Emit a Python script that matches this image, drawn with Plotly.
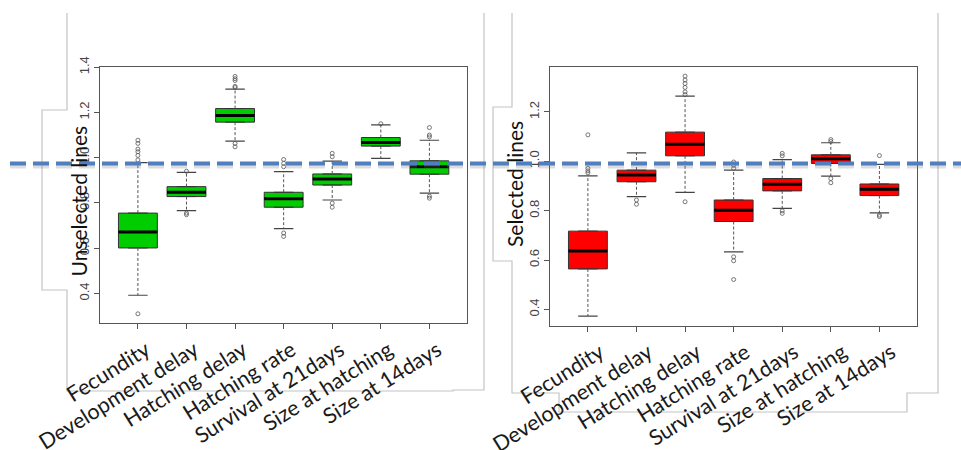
import plotly.graph_objects as go

categories = ["Fecundity", "Development delay", "Hatching delay", "Hatching rate",
              "Survival at 21days", "Size at hatching", "Size at 14days"]
positions = [1, 2, 3, 4, 5, 6, 7]

# Unselected lines (green)
q1_u = [0.601, 0.828, 1.157, 0.781, 0.879, 1.051, 0.927]
med_u = [0.671, 0.847, 1.186, 0.818, 0.906, 1.067, 0.960]
q3_u = [0.755, 0.872, 1.217, 0.847, 0.928, 1.089, 0.986]
lo_u = [0.392, 0.766, 1.073, 0.686, 0.813, 0.997, 0.843]
hi_u = [0.978, 0.935, 1.303, 0.938, 0.985, 1.145, 1.077]
out_u = [
    [0.99, 1.01, 1.026, 1.038, 1.063, 1.077, 0.31],
    [0.940, 0.755, 0.748],
    [1.31, 1.315, 1.341, 1.349, 1.359, 1.063, 1.048],
    [0.96, 0.975, 0.992, 0.667, 0.652],
    [1.004, 1.019, 0.799, 0.781],
    [1.15],
    [1.092, 1.10, 1.133, 0.83, 0.821],
]

# Selected lines (red)
q1_s = [0.564, 0.917, 1.022, 0.756, 0.880, 0.991, 0.861]
med_s = [0.637, 0.944, 1.069, 0.802, 0.907, 1.010, 0.887]
q3_s = [0.717, 0.964, 1.118, 0.843, 0.930, 1.026, 0.908]
lo_s = [0.373, 0.857, 0.874, 0.633, 0.809, 0.940, 0.791]
hi_s = [0.941, 1.034, 1.264, 0.964, 1.007, 1.075, 0.987]
out_s = [
    [0.953, 0.961, 0.971, 1.107],
    [0.843, 0.826],
    [1.27, 1.281, 1.299, 1.315, 1.329, 1.345, 0.836],
    [0.971, 0.984, 0.997, 0.613, 0.597, 0.521],
    [1.022, 1.032, 0.799, 0.789],
    [1.08, 1.088, 0.930, 0.913],
    [1.023, 0.782, 0.776],
]

y_ticks_u = [0.4, 0.6, 0.8, 1.0, 1.2, 1.4]
y_ticks_s = [0.4, 0.6, 0.8, 1.0, 1.2]

W, H = 961, 450
BOXW = 0.8
CAPW = 0.4

fig = go.Figure()


def add_panel(xa, ya, q1, med, q3, lo, hi, outs, color):
    for i, p in enumerate(positions):
        # whiskers (dashed)
        fig.add_trace(go.Scatter(
            x=[p, p, None, p, p], y=[q3[i], hi[i], None, q1[i], lo[i]],
            mode="lines", line=dict(color="#555555", width=1, dash="3px,2px"),
            xaxis=xa, yaxis=ya, showlegend=False, hoverinfo="skip"))
        # caps
        fig.add_trace(go.Scatter(
            x=[p - CAPW / 2, p + CAPW / 2, None, p - CAPW / 2, p + CAPW / 2],
            y=[hi[i], hi[i], None, lo[i], lo[i]],
            mode="lines", line=dict(color="#444444", width=1.2),
            xaxis=xa, yaxis=ya, showlegend=False, hoverinfo="skip"))
        # box
        fig.add_trace(go.Box(
            x=[p], q1=[q1[i]], median=[med[i]], q3=[q3[i]],
            lowerfence=[q1[i]], upperfence=[q3[i]], width=BOXW,
            fillcolor=color, line=dict(color="#333333", width=1),
            xaxis=xa, yaxis=ya, showlegend=False, boxpoints=False))
        # median
        fig.add_trace(go.Scatter(
            x=[p - BOXW / 2, p + BOXW / 2], y=[med[i], med[i]],
            mode="lines", line=dict(color="#000000", width=3),
            xaxis=xa, yaxis=ya, showlegend=False, hoverinfo="skip"))
        # outliers
        fig.add_trace(go.Scatter(
            x=[p] * len(outs[i]), y=outs[i], mode="markers",
            marker=dict(symbol="circle-open", size=4, color="#555555",
                        line=dict(width=0.8)),
            xaxis=xa, yaxis=ya, showlegend=False, hoverinfo="skip"))


add_panel("x", "y", q1_u, med_u, q3_u, lo_u, hi_u, out_u, "#00CD00")
add_panel("x2", "y2", q1_s, med_s, q3_s, lo_s, hi_s, out_s, "#FF0000")

xcommon = dict(range=[0.22, 7.78], tickvals=positions, ticktext=categories,
               tickangle=-32, ticks="outside", ticklen=5, tickcolor="#555555",
               showline=True, mirror=True, linecolor="#555555", linewidth=1,
               showgrid=False, zeroline=False, automargin=False,
               tickfont=dict(family="Lato", size=21.5, color="#1a1a1a"))
ycommon = dict(tickangle=-90, ticks="outside", ticklen=5, tickcolor="#555555",
               showline=True, mirror=True, linecolor="#555555", linewidth=1,
               showgrid=False, zeroline=False, tickformat=".1f", automargin=False,
               tickfont=dict(family="Liberation Sans", size=13, color="#444444"))


def px(xp):
    return xp / W


def py(yp):
    return 1 - yp / H


fig.update_layout(
    width=W, height=H, margin=dict(l=0, r=0, t=0, b=0, autoexpand=False),
    paper_bgcolor="white", plot_bgcolor="white",
    xaxis=dict(domain=[px(100), px(467.3)], anchor="y", ticklabelshift=8, **xcommon),
    yaxis=dict(domain=[py(323.3), py(66.7)], anchor="x", range=[0.268, 1.402],
               tickvals=y_ticks_u, **ycommon),
    xaxis2=dict(domain=[px(550), px(917.3)], anchor="y2", ticklabelshift=12, **xcommon),
    yaxis2=dict(domain=[py(325.7), py(66.7)], anchor="x2", range=[0.334, 1.383],
                tickvals=y_ticks_s, **ycommon),
)


def path(points):
    s = ""
    for k, (a, b) in enumerate(points):
        s += ("M" if k == 0 else " L") + f" {px(a):.5f},{py(b):.5f}"
    return s


left_frame = [(67, 13), (67, 110), (42, 110), (42, 290), (67, 290), (67, 391),
              (453, 391), (453, 390), (484, 390), (484, 13)]
right_frame = [(512, 13), (512, 107), (493, 107), (493, 261), (512, 261), (512, 393),
               (559, 393), (559, 412), (907, 412), (907, 393), (938, 393), (938, 13)]

for fr in (left_frame, right_frame):
    fig.add_shape(type="path", path=path(fr), xref="paper", yref="paper",
                  line=dict(color="#c4c4c4", width=1.2), layer="below")

# dashed reference line overlay (with soft shadow)
fig.add_shape(type="line", xref="paper", yref="paper", x0=px(10), x1=1,
              y0=py(166), y1=py(166),
              line=dict(color="rgba(120,120,120,0.25)", width=5, dash="16px,7px"))
fig.add_shape(type="line", xref="paper", yref="paper", x0=px(10), x1=1,
              y0=py(163.5), y1=py(163.5),
              line=dict(color="#4F7FBE", width=4, dash="16px,7px"))

fig.add_annotation(text="Unselected lines", xref="paper", yref="paper",
                   x=px(63), y=py(201), textangle=-90, showarrow=False,
                   font=dict(family="Lato", size=21, color="#111111"))
fig.add_annotation(text="Selected lines", xref="paper", yref="paper",
                   x=px(514), y=py(184), textangle=-90, showarrow=False,
                   font=dict(family="Lato", size=21, color="#111111"))

fig.write_html(
    "out.html",
    config={"displayModeBar": False},
    post_script="document.body.style.margin='0px';document.body.style.overflow='hidden';",
)
